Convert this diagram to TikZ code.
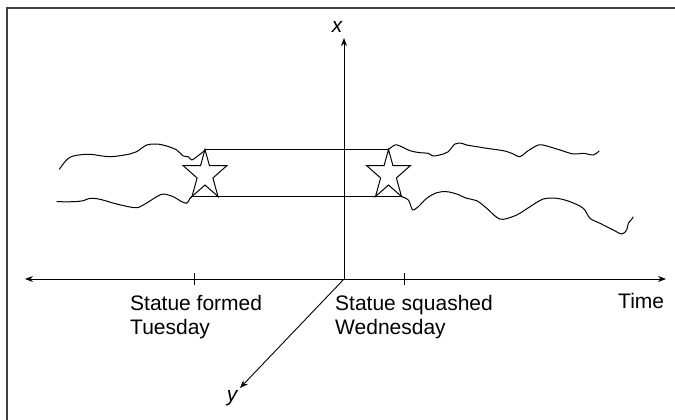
\documentclass[tikz,border=0pt]{standalone}
\usepackage{fontspec}
\setmainfont{Liberation Sans}
\usetikzlibrary{arrows.meta}
\tikzset{
  statue/.pic={
    \draw[line width=1pt, line join=miter]
      (0,0) -- (4.4,16) -- (22,16) -- (7.9,28.5) -- (13,47) -- (0,35.5)
      -- (-13,47) -- (-7.9,28.5) -- (-22,16) -- (-4.4,16) -- cycle;
    \coordinate (-top) at (0,0);
    \coordinate (-bl) at (-13,47);
    \coordinate (-br) at (13,47);
  }
}
\begin{document}
\begin{tikzpicture}[x=1pt,y=-1pt,
  axis/.style={line width=0.9pt},
  tipend/.style={-{Stealth[length=8pt,width=6pt]}},
  bothtips/.style={{Stealth[length=8pt,width=6pt]}-{Stealth[length=8pt,width=6pt]}},
  wave/.style={line width=1pt, line join=round},
  lbl/.style={font=\fontsize{21}{24}\selectfont, inner sep=0pt, align=left, anchor=north west},
  axlbl/.style={font=\fontsize{21}{24}\selectfont\itshape, inner sep=0pt}
]
\useasboundingbox (0,0) rectangle (675,420);
% frame
\draw[line width=1.6pt, black!75] (675,8) -- (7,8) -- (7,420);

% axes
\coordinate (O) at (344,279);
\coordinate (xt) at (344,38);
\coordinate (tl) at (25,279);
\coordinate (tr) at (666,279);
\coordinate (yt) at (240,388);
\coordinate (t1) at (194,279);
\coordinate (t2) at (404,279);
\draw[axis,tipend] (O) -- (xt);
\draw[axis,bothtips] (tl) -- (tr);
\draw[axis,tipend] (O) -- (yt);
\draw[axis] ([yshift=6pt]t1) -- ([yshift=-6pt]t1);
\draw[axis] ([yshift=6pt]t2) -- ([yshift=-6pt]t2);

% stars
\pic (s1) at (205,149.5) {statue};
\pic (s2) at (388.5,149.5) {statue};
\draw[axis] (s1-top) -- (s2-top);
\draw[axis] (s1-bl) -- (s2-br);

% wavy world lines
\draw[wave] plot[smooth, tension=0.55] coordinates {
  (59.3,169.3) (65,161.7) (70,157.3) (76.7,155.3) (90,154.3) (110,156.7)
  (130,154) (136.7,151.7) (146.7,145) (156.7,144) (166.7,146) (176.7,150)
  (183.3,156) (188.3,156.7) (191.7,160) (196.7,156.7) (203.3,151.7) (s1-top)};
\draw[wave] plot[smooth, tension=0.55] coordinates {
  (56.7,201.7) (73.3,201.7) (83.3,200.7) (90,198.3) (100,199.3) (116.7,204)
  (135,207.7) (143.3,205) (156.7,196.7) (163.3,194) (173.3,196.7) (180,200.7)
  (186.7,203.3) (190,198.3) (s1-bl)};
\draw[wave] plot[smooth, tension=0.55] coordinates {
  (s2-top) (395,145) (400,146) (410,150.7) (420,152.7) (428.3,153.3) (433.3,156)
  (443.3,154) (448.3,151.7) (455,144) (461.7,143.3) (466.7,145) (476.7,146.7)
  (486.7,148.3) (503.3,150.7) (511.7,153.3) (520,156.7) (526.7,151.7)
  (538.3,145) (546.7,146) (560,150) (573.3,154) (583.3,153.3) (593.3,155)
  (598.3,151.7) (599.3,150.7)};
\draw[wave] plot[smooth, tension=0.55] coordinates {
  (s2-br) (408.3,200) (411.7,208.3) (413.3,210) (418.3,206.7) (426.7,198.3)
  (436.7,192.7) (446.7,191.7) (456.7,194) (466.7,198.3) (476.7,200.7)
  (486.7,208.3) (496.7,217.3) (503.3,219.3) (516.7,215) (530,206.7)
  (543.3,199) (556.7,198.3) (570,201.7) (583.3,208.3) (590,218.3) (600,223.3)
  (613.3,230) (621.7,234) (626.7,230) (628.3,223.3) (631.7,219.3) (633.3,216.7)};

% labels
\node[axlbl] (xl) at (337,27) {x};
\node[axlbl] (yl) at (232,398) {y};
\node[lbl] (formed) at (130,295.5) {Statue formed\\Tuesday};
\node[lbl] (squashed) at (335,295.5) {Statue squashed\\Wednesday};
\node[lbl] (time) at (618,293.5) {Time};
\end{tikzpicture}
\end{document}
